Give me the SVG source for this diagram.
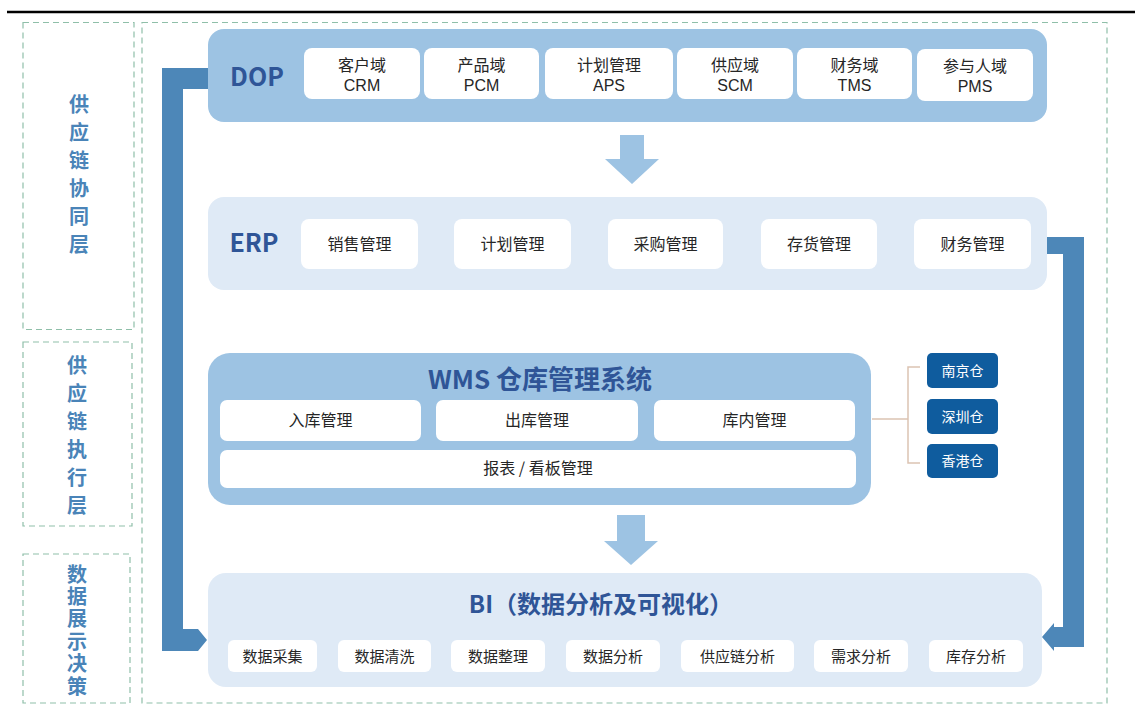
<svg xmlns="http://www.w3.org/2000/svg" width="1135" height="706" viewBox="0 0 1135 706">
  <style>
    .frame { fill: none; stroke: #8fbfa9; stroke-width: 1.2; stroke-dasharray: 6 4; }
    .side { font-family: "Noto Sans CJK SC", "Noto Sans", sans-serif; font-weight: 700; font-size: 20px; fill: #4a84b8; writing-mode: vertical-rl; text-orientation: upright; }
    .panel-dark { fill: #9dc3e3; }
    .panel-light { fill: #dfeaf6; }
    .card { fill: #ffffff; }
    .title { font-family: "Noto Sans CJK SC", "Noto Sans", sans-serif; font-weight: 700; fill: #2f5597; }
    .label { font-family: "Noto Sans CJK SC", "Noto Sans", sans-serif; font-size: 16px; fill: #262626; text-anchor: middle; }
    .code { font-family: "Liberation Sans", Arial, sans-serif; font-size: 16px; fill: #262626; text-anchor: middle; }
    .small { font-size: 15px; }
    .wh { fill: #0f5c9e; }
    .wh-label { font-family: "Noto Sans CJK SC", "Noto Sans", sans-serif; font-size: 14px; fill: #ffffff; text-anchor: middle; }
    .flow { fill: #4d87b8; }
    .down { fill: #9dc3e3; }
    .branch { fill: none; stroke: #dcc3b2; stroke-width: 1.5; }
  </style>

  <!-- header rule -->
  <line x1="7" y1="12" x2="1135" y2="12" stroke="#000000" stroke-width="2.5"/>

  <!-- layer frames -->
  <g id="layer-frames">
    <rect class="frame" x="23" y="22.5" width="111" height="307"/>
    <rect class="frame" x="23" y="342" width="109" height="184"/>
    <rect class="frame" x="23" y="554" width="107" height="149"/>
    <rect class="frame" x="142" y="22.5" width="965" height="680.5"/>
  </g>

  <!-- layer captions, set vertically -->
  <g id="layer-collab">
    <text class="side" x="79" y="94" letter-spacing="8">供应链协同层</text>
  </g>
  <g id="layer-exec">
    <text class="side" x="77" y="355" letter-spacing="8">供应链执行层</text>
  </g>
  <g id="layer-decision">
    <text class="side" x="77" y="564" letter-spacing="2.4">数据展示决策</text>
  </g>

  <!-- connectors -->
  <g id="connectors">
    <!-- DOP feedback loop down to BI -->
    <path class="flow" d="M208,68 L162,68 L162,651 L198,651 L207,640 L198,629 L183,629 L183,89 L208,89 Z"/>
    <!-- ERP down the right side to BI -->
    <path class="flow" d="M1047,237 L1084,237 L1084,647 L1054,647 L1054,651 L1042,637 L1054,623 L1054,627 L1063,627 L1063,254 L1047,254 Z"/>
    <!-- DOP to ERP -->
    <path class="down" d="M620,135 L644,135 L644,159 L659,159 L632,184 L605,159 L620,159 Z"/>
    <!-- WMS to BI -->
    <path class="down" d="M617,515 L645,515 L645,541 L658,541 L631,565 L604,541 L617,541 Z"/>
    <!-- WMS to warehouses -->
    <path class="branch" d="M872,419 L908,419 M920,367 L908,367 L908,463 L920,463"/>
  </g>

  <!-- DOP -->
  <g id="dop">
    <rect class="panel-dark" x="208" y="29" width="839" height="93" rx="16"/>
    <text class="title" x="257" y="86" font-size="25" text-anchor="middle">DOP</text>
    <rect class="card" x="304" y="48" width="116" height="51" rx="8"/>
    <text class="label" x="362" y="71">客户域</text>
    <text class="code" x="362" y="91">CRM</text>
    <rect class="card" x="424" y="48" width="115" height="51" rx="8"/>
    <text class="label" x="481.5" y="71">产品域</text>
    <text class="code" x="481.5" y="91">PCM</text>
    <rect class="card" x="545" y="48" width="128" height="51" rx="8"/>
    <text class="label" x="609" y="71">计划管理</text>
    <text class="code" x="609" y="91">APS</text>
    <rect class="card" x="677" y="48" width="116" height="51" rx="8"/>
    <text class="label" x="735" y="71">供应域</text>
    <text class="code" x="735" y="91">SCM</text>
    <rect class="card" x="797" y="48" width="115" height="51" rx="8"/>
    <text class="label" x="854.5" y="71">财务域</text>
    <text class="code" x="854.5" y="91">TMS</text>
    <rect class="card" x="917" y="49" width="116" height="52" rx="8"/>
    <text class="label" x="975" y="72">参与人域</text>
    <text class="code" x="975" y="92">PMS</text>
  </g>

  <!-- ERP -->
  <g id="erp">
    <rect class="panel-light" x="208" y="197" width="839" height="93" rx="16"/>
    <text class="title" x="254" y="252" font-size="25" text-anchor="middle">ERP</text>
    <rect class="card" x="301" y="219" width="117" height="50" rx="8"/>
    <text class="label" x="359.5" y="250">销售管理</text>
    <rect class="card" x="454" y="219" width="117" height="50" rx="8"/>
    <text class="label" x="512.5" y="250">计划管理</text>
    <rect class="card" x="608" y="219" width="115" height="50" rx="8"/>
    <text class="label" x="665.5" y="250">采购管理</text>
    <rect class="card" x="761" y="219" width="116" height="50" rx="8"/>
    <text class="label" x="819" y="250">存货管理</text>
    <rect class="card" x="914" y="219" width="117" height="50" rx="8"/>
    <text class="label" x="972.5" y="250">财务管理</text>
  </g>

  <!-- WMS -->
  <g id="wms">
    <rect class="panel-dark" x="208" y="353" width="663" height="152" rx="22"/>
    <text class="title" x="540" y="389" font-size="26" text-anchor="middle">WMS 仓库管理系统</text>
    <rect class="card" x="220" y="400" width="201" height="41" rx="7"/>
    <text class="label" x="320.5" y="426">入库管理</text>
    <rect class="card" x="436" y="400" width="202" height="41" rx="7"/>
    <text class="label" x="537" y="426">出库管理</text>
    <rect class="card" x="654" y="400" width="201" height="41" rx="7"/>
    <text class="label" x="754.5" y="426">库内管理</text>
    <rect class="card" x="220" y="450" width="636" height="38" rx="7"/>
    <text class="label" x="538" y="474">报表 / 看板管理</text>
  </g>

  <!-- warehouses -->
  <g id="wh-nanjing">
    <rect class="wh" x="927" y="353" width="71" height="35" rx="5"/>
    <text class="wh-label" x="962.5" y="375.5">南京仓</text>
  </g>
  <g id="wh-shenzhen">
    <rect class="wh" x="927" y="399" width="71" height="35" rx="5"/>
    <text class="wh-label" x="962.5" y="421.5">深圳仓</text>
  </g>
  <g id="wh-hongkong">
    <rect class="wh" x="927" y="444" width="71" height="34" rx="5"/>
    <text class="wh-label" x="962.5" y="466">香港仓</text>
  </g>

  <!-- BI -->
  <g id="bi">
    <rect class="panel-light" x="208" y="573" width="834" height="114" rx="18"/>
    <text class="title" x="601" y="613" font-size="24" text-anchor="middle">BI（数据分析及可视化）</text>
    <rect class="card" x="228" y="640" width="89" height="32" rx="6"/>
    <text class="label small" x="272.5" y="661.5">数据采集</text>
    <rect class="card" x="338" y="640" width="93" height="32" rx="6"/>
    <text class="label small" x="384.5" y="661.5">数据清洗</text>
    <rect class="card" x="451" y="640" width="94" height="32" rx="6"/>
    <text class="label small" x="498" y="661.5">数据整理</text>
    <rect class="card" x="566" y="640" width="94" height="32" rx="6"/>
    <text class="label small" x="613" y="661.5">数据分析</text>
    <rect class="card" x="681" y="640" width="113" height="32" rx="6"/>
    <text class="label small" x="737.5" y="661.5">供应链分析</text>
    <rect class="card" x="814" y="640" width="94" height="32" rx="6"/>
    <text class="label small" x="861" y="661.5">需求分析</text>
    <rect class="card" x="929" y="640" width="94" height="32" rx="6"/>
    <text class="label small" x="976" y="661.5">库存分析</text>
  </g>
</svg>
